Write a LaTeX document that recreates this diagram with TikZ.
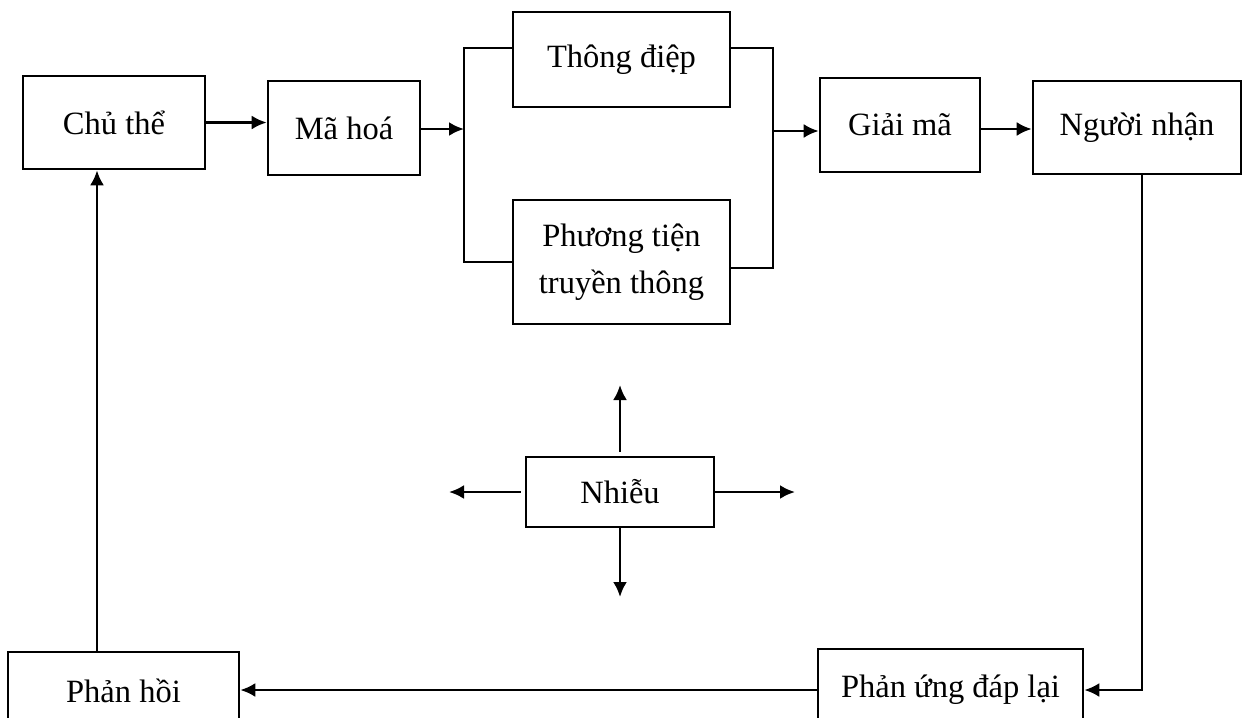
\documentclass[tikz,border=0pt]{standalone}
\usepackage{fontspec}
\setmainfont{Liberation Serif}
\usepackage{tikz}
\usetikzlibrary{shapes,arrows,arrows.meta,positioning,calc}
\usepackage{xcolor}
\tikzset{
        block/.style = {draw, fill=white, rectangle, inner sep=0pt, align=center},
        line/.style={draw, -{Latex[length=0.3cm,width=0.28cm]}}}

\begin{document}
\begin{tikzpicture}[x=0.02cm, y=-0.02cm, line width=1.5pt,
        font=\fontsize{18.5}{26.5}\selectfont]
            \useasboundingbox (0,0) rectangle (1244,717);
            \clip (0,0) rectangle (1244,717);
            \fill[white] (0,0) rectangle (1244,717);

            \node [block, minimum width=3.64cm, minimum height=1.86cm] (chu) at (114,122.5) {Chủ thể};
            \node [block, minimum width=3.04cm, minimum height=1.88cm] (mahoa) at (344,128) {Mã hoá};
            \node [block, minimum width=4.34cm, minimum height=1.9cm] (thongdiep) at (621.5,59.5) {Thông điệp};
            \node [block, minimum width=4.34cm, minimum height=2.48cm] (phuongtien) at (621.5,262) {Phương tiện\\truyền thông};
            \node [block, minimum width=3.2cm, minimum height=1.88cm] (giaima) at (900,125) {Giải mã};
            \node [block, minimum width=4.16cm, minimum height=1.86cm] (nguoinhan) at (1137,127.5) {Người nhận};
            \node [block, minimum width=5.3cm, minimum height=1.64cm] (phanung) at (950.5,690) {Phản ứng đáp lại};
            \node [block, minimum width=4.62cm, minimum height=1.56cm] (phanhoi) at (123.5,691) {Phản hồi};
            \node [block, minimum width=3.76cm, minimum height=1.4cm] (nhieu) at (620,492) {Nhiễu};

            \coordinate (splitL) at (464,129);
            \coordinate (splitR) at (773,131);
            \coordinate (nup) at (620,385);
            \coordinate (ndown) at (620,597);
            \coordinate (nleft) at (449,492);
            \coordinate (nright) at (795,492);

            \begin{scope}[line]
            \draw (chu.east) -- (chu.east -| mahoa.west);
            \draw (mahoa.east |- splitL) -- (splitL);
            \draw (splitR) -- (splitR -| giaima.west);
            \draw ([yshift=-0.08cm]giaima.east) -- ([yshift=-0.08cm]giaima.east -| nguoinhan.west);
            \draw ([xshift=0.1cm]nguoinhan.south) |- (phanung.east);
            \draw (phanung.west) -- (phanung.west -| phanhoi.east);
            \draw (phanhoi.north -| 97,0) -- (chu.south -| 97,0);
            \draw ([yshift=0.08cm]nhieu.north) -- (nup);
            \draw (nhieu.south) -- (ndown);
            \draw ([xshift=-0.08cm]nhieu.west) -- (nleft);
            \draw (nhieu.east) -- (nright);
            \end{scope}

            \draw ([yshift=0.23cm]thongdiep.west) -| (splitL) |- (phuongtien.west);
            \draw ([yshift=0.23cm]thongdiep.east) -| (splitR) |- ([yshift=-0.12cm]phuongtien.east);
    \end{tikzpicture}
\end{document}
